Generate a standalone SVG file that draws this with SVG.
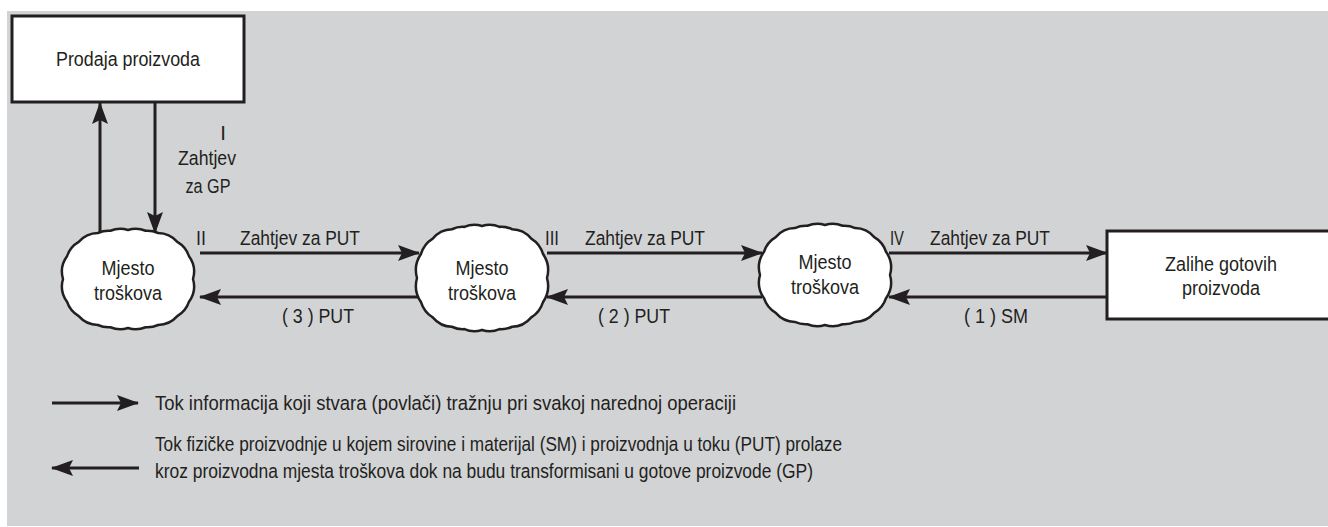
<svg xmlns="http://www.w3.org/2000/svg" xmlns:xlink="http://www.w3.org/1999/xlink" width="1328" height="527" viewBox="0 0 1328 527">
<style>
text{font-family:"Liberation Sans",Arial,sans-serif;font-size:20.5px;fill:#231f20}
.mid{text-anchor:middle}
.box{fill:#fff;stroke:#231f20;stroke-width:3}
.blob{fill:#fff;stroke:#231f20;stroke-width:2.5}
.ln{stroke:#231f20;stroke-width:3;fill:none;marker-end:url(#ah)}
</style>
<defs>
<marker id="ah" viewBox="0 0 22 16" refX="21" refY="8" markerWidth="22" markerHeight="16" markerUnits="userSpaceOnUse" orient="auto">
<path d="M0,0 L22,8 L0,16 L4,8 Z" fill="#231f20"/>
</marker>
<path id="blob" d="M65,0 A26,26 0 0 1 61.01,22.73 A26,26 0 0 1 49.26,37.14 A26,26 0 0 1 30.15,45.99 A26,26 0 0 1 17.59,48.25 A26,26 0 0 1 0,49 A26,26 0 0 1 -17.59,48.25 A26,26 0 0 1 -30.15,45.99 A26,26 0 0 1 -49.26,37.14 A26,26 0 0 1 -61.01,22.73 A26,26 0 0 1 -65,0 A26,26 0 0 1 -61.01,-22.73 A26,26 0 0 1 -49.26,-37.14 A26,26 0 0 1 -30.15,-45.99 A26,26 0 0 1 -17.59,-48.25 A26,26 0 0 1 0,-49 A26,26 0 0 1 17.59,-48.25 A26,26 0 0 1 30.15,-45.99 A26,26 0 0 1 49.26,-37.14 A26,26 0 0 1 61.01,-22.73 A26,26 0 0 1 65,0 Z"/>
</defs>
<rect x="7" y="11" width="1321" height="515" fill="#d2d3d5"/>

<g id="connectors">
<line class="ln" x1="100" y1="233" x2="100" y2="103"/>
<line class="ln" x1="155" y1="103" x2="155" y2="233"/>
<line class="ln" x1="200" y1="253" x2="419" y2="253"/>
<line class="ln" x1="419" y1="297" x2="200" y2="297"/>
<line class="ln" x1="547" y1="253" x2="762" y2="253"/>
<line class="ln" x1="762" y1="297" x2="547" y2="297"/>
<line class="ln" x1="889" y1="253" x2="1107" y2="253"/>
<line class="ln" x1="1107" y1="297" x2="889" y2="297"/>
</g>

<g id="labels">
<text x="223" y="140" class="mid">I</text>
<text x="207" y="165" class="mid" textLength="58" lengthAdjust="spacingAndGlyphs">Zahtjev</text>
<text x="208" y="193" class="mid" textLength="45" lengthAdjust="spacingAndGlyphs">za GP</text>
<text x="196" y="245" textLength="10" lengthAdjust="spacingAndGlyphs">II</text>
<text x="240" y="245" textLength="120" lengthAdjust="spacingAndGlyphs">Zahtjev za PUT</text>
<text x="282" y="323" textLength="72" lengthAdjust="spacingAndGlyphs">( 3 ) PUT</text>
<text x="545" y="245" textLength="14" lengthAdjust="spacingAndGlyphs">III</text>
<text x="585" y="245" textLength="120" lengthAdjust="spacingAndGlyphs">Zahtjev za PUT</text>
<text x="598" y="323" textLength="72" lengthAdjust="spacingAndGlyphs">( 2 ) PUT</text>
<text x="890" y="245" textLength="14" lengthAdjust="spacingAndGlyphs">IV</text>
<text x="930" y="245" textLength="120" lengthAdjust="spacingAndGlyphs">Zahtjev za PUT</text>
<text x="964" y="323" textLength="64" lengthAdjust="spacingAndGlyphs">( 1 ) SM</text>
</g>

<g id="prodaja">
<rect class="box" x="12" y="16" width="232" height="86"/>
<text x="128" y="66" class="mid" textLength="144" lengthAdjust="spacingAndGlyphs">Prodaja proizvoda</text>
</g>

<g id="mjesto1">
<use xlink:href="#blob" class="blob" transform="translate(128,279)"/>
<text x="128" y="275" class="mid" textLength="53" lengthAdjust="spacingAndGlyphs">Mjesto</text>
<text x="128" y="300" class="mid" textLength="68" lengthAdjust="spacingAndGlyphs">troškova</text>
</g>

<g id="mjesto2">
<use xlink:href="#blob" class="blob" transform="translate(482,278) scale(1,1.06)"/>
<text x="482" y="275" class="mid" textLength="53" lengthAdjust="spacingAndGlyphs">Mjesto</text>
<text x="482" y="300" class="mid" textLength="68" lengthAdjust="spacingAndGlyphs">troškova</text>
</g>

<g id="mjesto3">
<use xlink:href="#blob" class="blob" transform="translate(825,275) scale(1,1.02)"/>
<text x="825" y="269" class="mid" textLength="53" lengthAdjust="spacingAndGlyphs">Mjesto</text>
<text x="825" y="294" class="mid" textLength="68" lengthAdjust="spacingAndGlyphs">troškova</text>
</g>

<g id="zalihe">
<rect class="box" x="1107" y="231" width="240" height="88"/>
<text x="1221" y="271" class="mid" textLength="112" lengthAdjust="spacingAndGlyphs">Zalihe gotovih</text>
<text x="1221" y="295" class="mid" textLength="78" lengthAdjust="spacingAndGlyphs">proizvoda</text>
</g>

<g id="legend">
<line class="ln" x1="52" y1="403" x2="138" y2="403"/>
<line class="ln" x1="139" y1="468" x2="52" y2="468"/>
<text x="155" y="410" textLength="581" lengthAdjust="spacingAndGlyphs">Tok informacija koji stvara (povlači) tražnju pri svakoj narednoj operaciji</text>
<text x="155" y="451" textLength="687" lengthAdjust="spacingAndGlyphs">Tok fizičke proizvodnje u kojem sirovine i materijal (SM) i proizvodnja u toku (PUT) prolaze</text>
<text x="155" y="478" textLength="658" lengthAdjust="spacingAndGlyphs">kroz proizvodna mjesta troškova dok na budu transformisani u gotove proizvode (GP)</text>
</g>
</svg>
